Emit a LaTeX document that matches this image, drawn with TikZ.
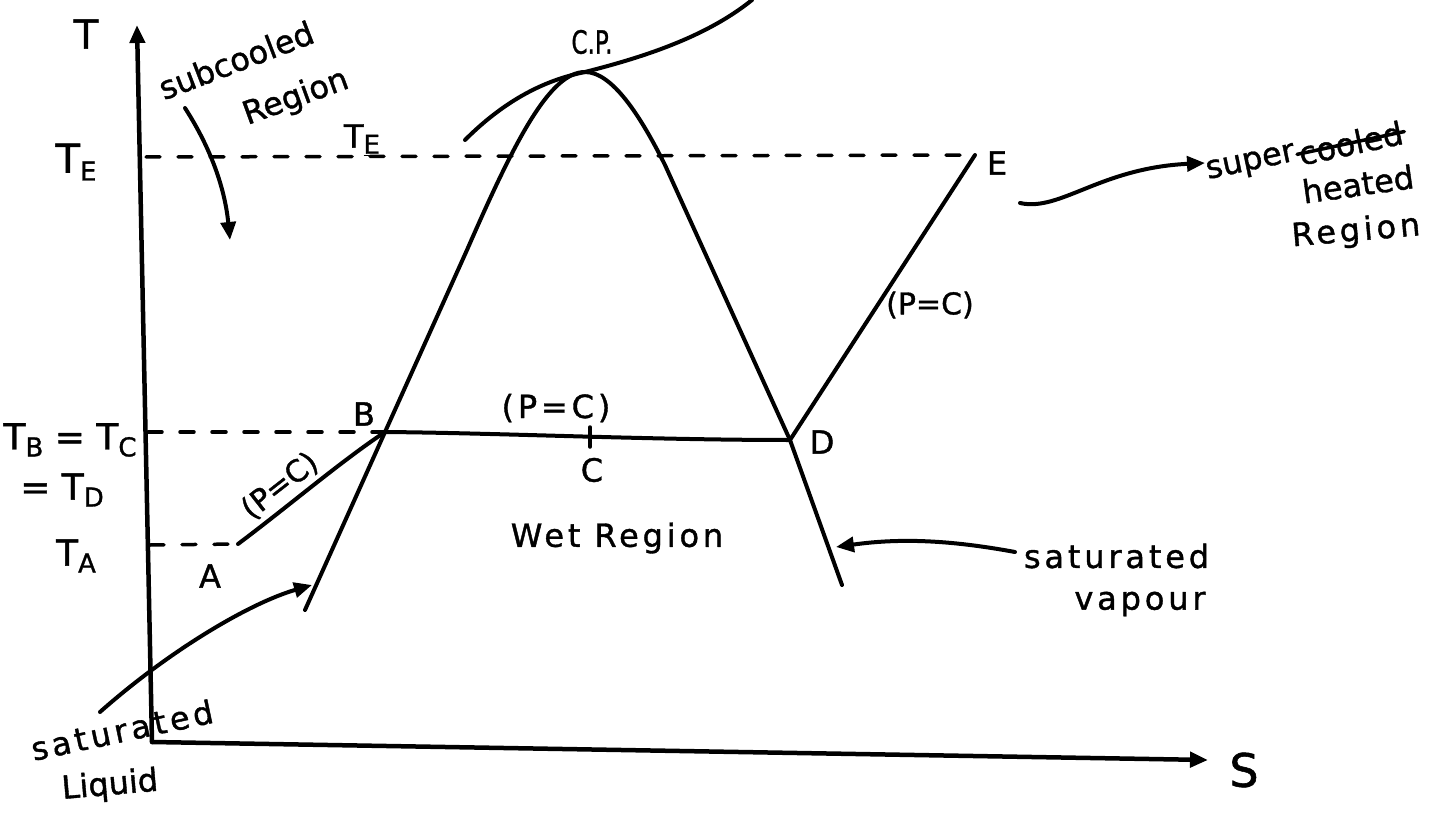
\documentclass[tikz,border=0pt]{standalone}
\usepackage{fontspec}
\setmainfont{DejaVu Sans}[FakeBold=1.2]
\newfontfamily\handA{DejaVu Sans}[LetterSpace=12,FakeBold=1.2]
\usetikzlibrary{arrows.meta}
\newcommand\lsub[1]{\raisebox{-0.35ex}{\fontsize{26}{28}\selectfont #1}}
\begin{document}
\begin{tikzpicture}[x=1pt,y=-1pt, line width=4pt, line cap=round, line join=round,
  lbl/.style={font=\fontsize{32}{36}\selectfont, inner sep=0pt},
  wlbl/.style={font=\fontsize{32}{36}\selectfont\handA, inner sep=0pt},
  axlbl/.style={font=\fontsize{40}{44}\selectfont, inner sep=0pt},
  dsh/.style={line width=3.5pt, dash pattern=on 14pt off 18pt},
  arr/.style={-{Triangle[length=18pt,width=15pt]}},
  curve/.style={line width=4pt}]
\useasboundingbox (0,0) rectangle (1444,832);
% axes
\coordinate (O) at (152,742);
\coordinate (Ttop) at (137,25);
\coordinate (Send) at (1208,760);
\draw[arr, line width=4.5pt] (O) -- (Ttop);
\draw[arr, line width=4.5pt] (O) -- (Send);
\node[axlbl] (Tl) at (86,34) {T};
\node[axlbl, font=\fontsize{46}{50}\selectfont] (Sl) at (1244,770) {S};
% key points
\coordinate (L0) at (305,610);
\coordinate (B) at (385,432);
\coordinate (Lm) at (467,250);
\coordinate (CP) at (585,72);
\coordinate (Rm) at (665,165);
\coordinate (D) at (790,440);
\coordinate (R0) at (842,585);
\coordinate (A) at (238,544);
\coordinate (E) at (975,155);
\coordinate (C) at (590,437);
% dome
\draw[curve] (L0) -- (B) -- (Lm) .. controls (515,140) and (550,72) .. (CP)
  .. controls (612,72) and (640,115) .. (Rm) -- (D) -- (R0);
% critical isobar
\draw[curve] (465,140) .. controls (505,100) and (545,80) .. (CP)
  .. controls (640,58) and (705,38) .. (752,0);
% process lines
\draw[curve] (A) .. controls (290,505) and (340,462) .. (B);
\draw[curve] (B) .. controls (500,433) and (650,440) .. (D);
\draw[curve] (D) -- (E);
\draw[line width=3.5pt] (590,427) -- (590,447);
% dashed levels
\coordinate (aE) at (146,157);
\coordinate (aB) at (148,432);
\coordinate (aA) at (150,545);
\draw[dsh] (aE) -- (E);
\draw[dsh] (aB) -- (B);
\draw[dsh] (aA) -- (A);
% axis labels
\node[axlbl] (TE) at (76,162) {T\lsub{E}};
\node[axlbl, font=\fontsize{36}{40}\selectfont] (TB) at (70,440) {T\lsub{B} = T\lsub{C}};
\node[axlbl, font=\fontsize{36}{40}\selectfont] (TD) at (62,490) {= T\lsub{D}};
\node[axlbl, font=\fontsize{36}{40}\selectfont] (TA) at (76,556) {T\lsub{A}};
\node[lbl] (TE2) at (362,140) {T\lsub{\underline{E}}};
% point labels
\node[lbl] (Al) at (210,576) {A};
\node[lbl] (Bl) at (364,414) {B};
\node[lbl] (Cl) at (592,470) {C};
\node[lbl] (Dl) at (822,442) {D};
\node[lbl] (El) at (997,163) {E};
\node[lbl, font=\fontsize{32}{34}\selectfont, xscale=0.72] (CPl) at (592,42) {C.P.};
\node[lbl, font=\fontsize{30}{34}\selectfont, rotate=38] (p1) at (280,486) {(P=C)};
\node[wlbl] (p2) at (556,408) {(P=C)};
\node[lbl, font=\fontsize{30}{34}\selectfont] (p3) at (930,305) {(P=C)};
\node[wlbl] (wet) at (617,538) {Wet Region};
% subcooled
\node[lbl, rotate=21] (sc1) at (236,60) {subcooled};
\node[lbl, rotate=20] (sc2) at (296,98) {Region};
\coordinate (sca) at (185,108);
\coordinate (scb) at (230,240);
\draw[arr] (sca) .. controls (212,150) and (225,190) .. (scb);
% saturated liquid
\node[wlbl, rotate=12] (sl1) at (122,730) {saturated};
\node[lbl, rotate=5] (sl2) at (110,786) {Liquid};
\coordinate (sla) at (100,712);
\coordinate (slb) at (312,585);
\draw[arr] (sla) .. controls (170,650) and (250,603) .. (slb);
% saturated vapour
\node[wlbl, anchor=west] (sv1) at (1022,556) {saturated};
\node[wlbl] (sv2) at (1140,604) {vapour};
\coordinate (sva) at (1015,552);
\coordinate (svb) at (836,547);
\draw[arr] (sva) .. controls (950,540) and (900,538) .. (svb);
% superheated
\node[lbl, rotate=12, anchor=south west] (sh0) at (1208,188) {super};
\node[lbl, rotate=12, anchor=south west] (sh1) at (sh0.south east) {cooled};
\draw[line width=3.5pt] (sh1.west) -- (sh1.east);
\node[lbl, rotate=8] (sh2) at (1358,184) {heated};
\node[wlbl, rotate=5] (sh3) at (1356,232) {Region};
\coordinate (sha) at (1020,203);
\coordinate (shb) at (1205,163);
\draw[arr] (sha) .. controls (1060,212) and (1100,168) .. (shb);
\end{tikzpicture}
\end{document}
